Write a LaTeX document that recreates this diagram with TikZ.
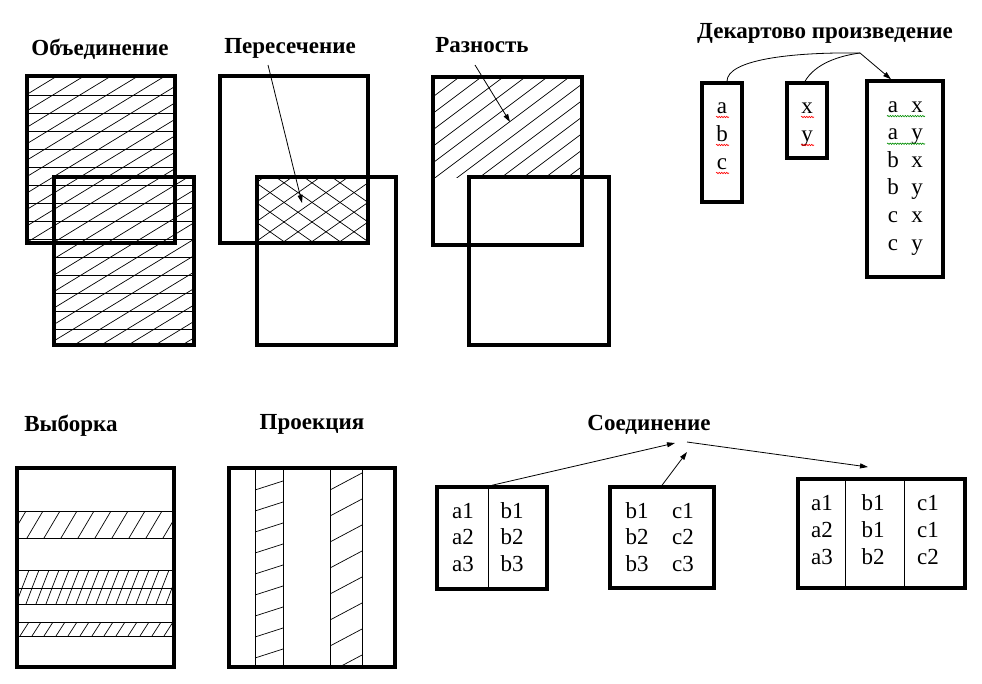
\documentclass[tikz,border=0pt]{standalone}
\usepackage{fontspec}
\setmainfont{Liberation Serif}
\usetikzlibrary{arrows.meta,decorations.pathmorphing}

\tikzset{
  ttl/.style={font=\bfseries\fontsize{23}{26}\selectfont, anchor=base, inner sep=0pt},
  cell/.style={font=\fontsize{23}{27}\selectfont, anchor=base, inner sep=0pt},
  frame/.style={draw, line width=3.5pt, inner sep=0pt},
  thick box/.style={line width=3.5pt},
  hatch/.style={line width=0.7pt},
  sep/.style={line width=1pt},
  wire/.style={line width=0.8pt},
  link/.style={line width=0.8pt, -{Triangle[length=8pt,width=5pt]}},
  squig/.style={decorate, decoration={snake, amplitude=0.7pt, segment length=2.5pt}, line width=0.6pt}
}

\begin{document}
\begin{tikzpicture}[x=1pt,y=1pt,yscale=-1,xscale=1]
    \useasboundingbox (0,0) rectangle (982,683);

    % titles
    \node[ttl] (tUni) at (100,55) {Объединение};
    \node[ttl] (tInt) at (290,53) {Пересечение};
    \node[ttl] (tDif) at (482,52) {Разность};
    \node[ttl] (tCart) at (825,38) {Декартово произведение};
    \node[ttl] (tSel) at (71,431) {Выборка};
    \node[ttl] (tProj) at (312,429) {Проекция};
    \node[ttl] (tJoin) at (649,430) {Соединение};

    % union
    \begin{scope}
    \clip (27,76) rectangle (175,243) (54,177) rectangle (194,345);
    \foreach \y in {95,113,...,345} \draw[hatch] (20,\y) -- (200,\y);
    \foreach \x in {-420,-393,...,200} \draw[hatch] (\x,350) -- ++(460,-280);
    \end{scope}
    \draw[thick box] (27,76) rectangle (175,243);
    \draw[thick box] (54,177) rectangle (194,345);

    % intersection
    \begin{scope}
    \clip (257,177) rectangle (368,243);
    \foreach \x in {160,188,...,380} \draw[hatch] (\x,250) -- ++(120,-84);
    \foreach \x in {240,268,...,460} \draw[hatch] (\x,250) -- ++(-120,-84);
    \end{scope}
    \draw[thick box] (220,76) rectangle (368,243);
    \draw[thick box] (257,177) rectangle (396,345);
    \coordinate (iFrom) at (268,65);
    \coordinate (iTo) at (302,203);
    \draw[link] (iFrom) -- (iTo);

    % difference
    \begin{scope}
    \clip (433,77) rectangle (582,177);
    \foreach \x in {300,322,...,600} \draw[hatch] (\x,180) -- ++(140,-105);
    \end{scope}
    \draw[thick box] (433,77) rectangle (582,245);
    \draw[thick box] (469,177) rectangle (609,345);
    \coordinate (dFrom) at (475,65);
    \coordinate (dTo) at (510,122);
    \draw[link] (dFrom) -- (dTo);

    % cartesian product
    \node[frame, minimum width=40, minimum height=119] (abc) at (722,142.5) {};
    \node[frame, minimum width=40, minimum height=75] (xy) at (807,120.5) {};
    \node[frame, minimum width=76, minimum height=196] (prod) at (905,179) {};
    \foreach \l [count=\i] in {a,b,c} {
      \node[cell] (abc\i) at (722,85+28*\i) {\l};
      \draw[squig, red] (716,89+28*\i) -- (729,89+28*\i);
    }
    \foreach \l [count=\i] in {x,y} {
      \node[cell] (xy\i) at (807,85+28*\i) {\l};
      \draw[squig, red] (801,89+28*\i) -- (814,89+28*\i);
    }
    \foreach \l/\r [count=\i] in {a/x,a/y,b/x,b/y,c/x,c/y} {
      \node[cell] (pl\i) at (893,84.5+27.6*\i) {\l};
      \node[cell] (pr\i) at (917,84.5+27.6*\i) {\r};
    }
    \foreach \i in {1,2} \draw[squig, green!55!black] (887,88.5+27.6*\i) -- (925,88.5+27.6*\i);
    \coordinate (hub) at (860,53);
    \draw[wire] ([xshift=5pt]abc.north) .. controls (727,60) and (790,52) .. (hub);
    \draw[wire] ([xshift=-2pt]xy.north) .. controls (815,64) and (838,56) .. (hub);
    \draw[link] (hub) -- ([xshift=-14pt]prod.north);

    % selection
    \begin{scope}
    \clip (17,511) rectangle (174,538);
    \foreach \x in {10,27,...,190} \draw[hatch] (\x,538) -- ++(16,-27);
    \end{scope}
    \begin{scope}
    \clip (17,570) rectangle (174,588);
    \foreach \x in {12,22,...,190} \draw[hatch] (\x,588) -- ++(7,-18);
    \end{scope}
    \begin{scope}
    \clip (17,588) rectangle (174,604);
    \foreach \x in {16,26,...,190} \draw[hatch] (\x,604) -- ++(6,-16);
    \end{scope}
    \begin{scope}
    \clip (17,622) rectangle (174,636);
    \foreach \x in {20,32,...,190} \draw[hatch] (\x,636) -- ++(9,-14);
    \end{scope}
    \foreach \y in {511,538,570,588,604,622,636} \draw[sep] (17,\y) -- (174,\y);
    \draw[thick box] (17,468) rectangle (174,667);

    % projection
    \begin{scope}
    \clip (255,468) rectangle (283,667);
    \foreach \y in {490,511,...,690} \draw[hatch] (255,\y) -- ++(28,-9);
    \end{scope}
    \begin{scope}
    \clip (330,468) rectangle (362,667);
    \foreach \y in {490,516,...,700} \draw[hatch] (330,\y) -- ++(32,-17);
    \end{scope}
    \foreach \x in {255,283,330,362} \draw[sep] (\x,468) -- (\x,667);
    \draw[thick box] (229,468) rectangle (395,667);

    % join
    \node[frame, minimum width=110, minimum height=102] (ra) at (492,538) {};
    \node[frame, minimum width=104, minimum height=101] (rb) at (662,537.5) {};
    \node[frame, minimum width=167, minimum height=109] (rab) at (881.5,533.5) {};
    \draw[sep] (488,487) -- (488,589);
    \draw[sep] (845,479) -- (845,588);
    \draw[sep] (904,479) -- (904,588);
    \foreach \i in {1,2,3} {
      \node[cell] (ra\i) at (463,491.3+26.7*\i) {a\i};
      \node[cell] (rb\i) at (512,491.3+26.7*\i) {b\i};
      \node[cell] (sb\i) at (637,491.3+26.7*\i) {b\i};
      \node[cell] (sc\i) at (683,491.3+26.7*\i) {c\i};
    }
    \foreach \a/\b/\c [count=\i] in {a1/b1/c1,a2/b1/c1,a3/b2/c2} {
      \node[cell] (ja\i) at (822,483+27.3*\i) {\a};
      \node[cell] (jb\i) at (873,483+27.3*\i) {\b};
      \node[cell] (jc\i) at (928,483+27.3*\i) {\c};
    }
    \coordinate (j1) at (675,443);
    \coordinate (j2) at (687,452);
    \coordinate (j3) at (687,442);
    \coordinate (j4) at (868,467);
    \draw[link] (ra.north) -- (j1);
    \draw[link] (rb.north) -- (j2);
    \draw[link] (j3) -- (j4);

\end{tikzpicture}
\end{document}
